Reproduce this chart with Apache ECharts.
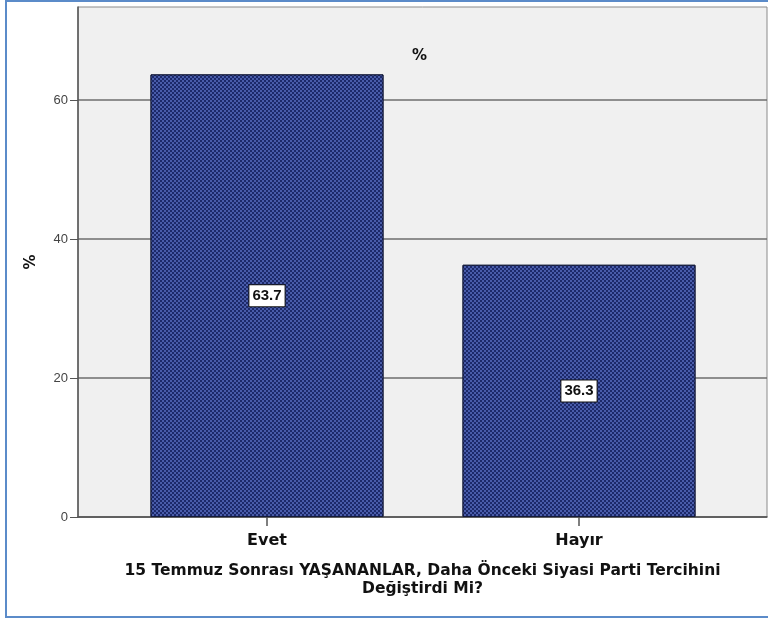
<!DOCTYPE html>
<html>
<head>
<meta charset="utf-8">
<script src="https://cdn.jsdelivr.net/npm/echarts@6/dist/echarts.min.js"></script>
<style>
  html, body { margin: 0; padding: 0; background: #fff; }
  #chart { width: 768px; height: 621px; }
</style>
</head>
<body>
<div id="chart"></div>
<script>
// 数据
const categories = ['Evet', 'Hayır']
const percents = [63.7, 36.3]
const yTicks = [0, 20, 40, 60]
const yMax = 73.4

const chart = echarts.init(document.getElementById('chart'))

const fontFamily = '"Liberation Sans", Arial, sans-serif'
const wideFont = '"DejaVu Sans", Verdana, sans-serif'
const barColor = '#1c296a'

chart.setOption({
  animation: false,
  backgroundColor: '#ffffff',
  title: {
    text: '%',
    left: 407,
    top: 44,
    textStyle: { fontSize: 15, fontWeight: 'bold', color: '#111', fontFamily: wideFont },
  },
  graphic: [
    {
      type: 'rect',
      shape: { x: 6, y: 1, width: 800, height: 616 },
      style: { fill: 'none', stroke: '#5b8bc9', lineWidth: 2 },
      silent: true,
      z: 100,
    },
  ],
  grid: [
    // 背景网格：灰底 + 坐标轴
    { left: 78, right: 1, top: 7, bottom: 104, show: true, backgroundColor: '#f0f0f0', borderColor: '#8a8a8a', borderWidth: 1 },
    // 柱子网格
    { left: 111, width: 624, top: 7, bottom: 104 },
  ],
  xAxis: [
    {
      gridIndex: 0,
      type: 'value',
      min: 0,
      max: 1,
      axisLine: { show: true, lineStyle: { color: '#555', width: 1.5 } },
      axisTick: { show: false },
      axisLabel: { show: false },
      splitLine: { show: false },
      name: '15 Temmuz Sonrası YAŞANANLAR, Daha Önceki Siyasi Parti Tercihini\nDeğiştirdi Mi?',
      nameLocation: 'middle',
      nameGap: 45,
      nameTextStyle: { fontSize: 15.5, fontWeight: 'bold', color: '#111', lineHeight: 18, fontFamily: wideFont },
    },
    {
      gridIndex: 1,
      type: 'category',
      data: categories,
      axisLine: { show: false },
      axisTick: { show: true, alignWithLabel: true, length: 9, lineStyle: { color: '#555', width: 1.5 } },
      axisLabel: { fontSize: 16, fontWeight: 'bold', color: '#111', margin: 16, fontFamily: wideFont },
    },
  ],
  yAxis: [
    {
      gridIndex: 0,
      type: 'value',
      min: 0,
      max: yMax,
      axisLine: { show: true, lineStyle: { color: '#555', width: 1.5 } },
      axisTick: { show: true, length: 8, customValues: yTicks, lineStyle: { color: '#555' } },
      axisLabel: { customValues: yTicks, fontSize: 13, color: '#444', margin: 10, fontFamily },
      splitLine: { show: true, lineStyle: { color: '#6e6e6e', width: 1.5 } },
      name: '%',
      nameLocation: 'middle',
      nameGap: 39,
      nameRotate: 90,
      nameTextStyle: { fontSize: 15, fontWeight: 'bold', color: '#111', fontFamily: wideFont },
    },
    { gridIndex: 1, type: 'value', min: 0, max: yMax, show: false },
  ],
  series: [
    {
      type: 'bar',
      xAxisIndex: 1,
      yAxisIndex: 1,
      data: percents,
      barWidth: 233,
      itemStyle: {
        color: barColor,
        borderColor: '#141a3a',
        borderWidth: 1,
        decal: {
          symbol: 'rect',
          symbolSize: 1,
          color: 'rgba(88,110,192,0.75)',
          dashArrayX: [[1.5, 1.5], [0, 1.5, 1.5, 0]],
          dashArrayY: [1.5, 0],
          rotation: 0,
        },
      },
      label: {
        show: true,
        position: 'inside',
        formatter: p => p.value.toFixed(1),
        fontSize: 15,
        fontWeight: 'bold',
        color: '#111',
        fontFamily,
        backgroundColor: '#ffffff',
        borderColor: '#111',
        borderWidth: 1,
        padding: [3, 3, 3, 3],
      },
    },
  ],
})
</script>
</body>
</html>
